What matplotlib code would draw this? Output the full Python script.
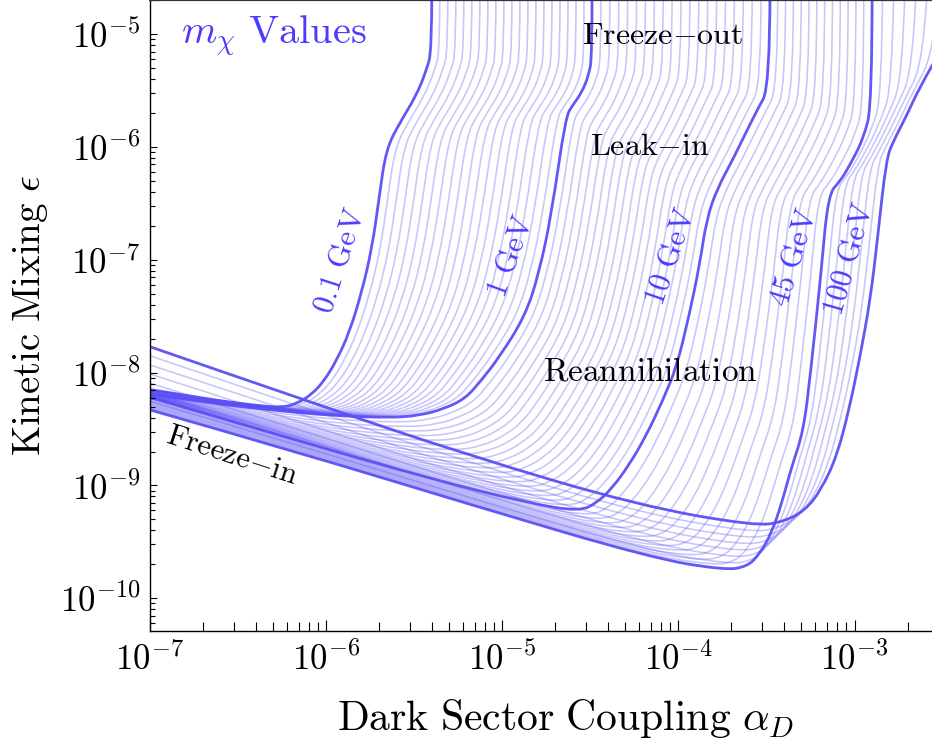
import numpy as np
import matplotlib
matplotlib.use("Agg")
import matplotlib.pyplot as plt
from matplotlib.path import Path
from matplotlib.patches import PathPatch

plt.rcParams['font.family'] = 'serif'
plt.rcParams['font.serif'] = ['cmr10']
plt.rcParams['mathtext.fontset'] = 'cm'
plt.rcParams['axes.formatter.use_mathtext'] = True

# --- labelled dark matter masses (GeV) ---
mass_labels = ['0.1', '1', '10', '45', '100']
mass_values = [0.1, 1.0, 10.0, 45.0, 100.0]

# --- curves for the labelled masses, log10(alpha_D) and log10(epsilon) ---
loga_01 = [-7.00, -6.80, -6.60, -6.40, -6.25, -6.16, -6.08, -6.01, -5.94, -5.87,
           -5.80, -5.74, -5.70, -5.66, -5.58, -5.49, -5.43, -5.40, -5.40]
loge_01 = [-8.15, -8.20, -8.25, -8.29, -8.31, -8.27, -8.19, -8.07, -7.89, -7.65,
           -7.30, -6.90, -6.46, -6.02, -5.78, -5.55, -5.32, -5.14, -4.60]

loga_1 = [-7.00, -6.66, -6.32, -5.98, -5.64, -5.47, -5.33, -5.21, -5.12, -5.02,
          -4.87, -4.79, -4.72, -4.64, -4.60, -4.55, -4.51, -4.49, -4.49]
loge_1 = [-8.19, -8.27, -8.33, -8.38, -8.40, -8.38, -8.32, -8.23, -8.07, -7.87,
          -7.50, -7.11, -6.59, -5.73, -5.63, -5.52, -5.37, -5.20, -4.60]

loga_10 = [-7.00, -6.21, -5.41, -4.84, -4.56, -4.46, -4.38, -4.28, -4.18, -4.09,
           -4.01, -3.94, -3.88, -3.84, -3.78, -3.69, -3.56, -3.48, -3.48]
loge_10 = [-8.22, -8.58, -8.94, -9.16, -9.23, -9.15, -9.03, -8.82, -8.55, -8.25,
           -7.95, -7.50, -7.05, -6.64, -6.37, -6.11, -5.69, -5.47, -4.60]

loga_45 = [-7.00, -6.15, -5.18, -4.16, -3.74, -3.61, -3.54, -3.47, -3.41, -3.36,
           -3.29, -3.25, -3.19, -3.15, -3.08, -3.03, -2.95, -2.90, -2.90]
loge_45 = [-8.33, -8.71, -9.17, -9.64, -9.75, -9.72, -9.61, -9.42, -9.14, -8.85,
           -8.52, -8.01, -7.12, -6.42, -6.30, -6.17, -5.93, -5.62, -4.60]

loga_100 = [-7.00, -6.15, -5.18, -4.22, -3.56, -3.40, -3.28, -3.19, -3.10, -3.03,
            -2.97, -2.91, -2.87, -2.82, -2.78, -2.71, -2.63, -2.49, -2.46]
loge_100 = [-7.77, -8.23, -8.74, -9.18, -9.36, -9.32, -9.22, -9.04, -8.74, -8.32,
            -7.87, -7.35, -6.82, -6.11, -5.95, -5.74, -5.47, -5.09, -4.60]

# mass grid of the pale curves: 20 per decade from 0.1 to 100 GeV
grid_per_decade = 20

x_ticks = [1e-7, 1e-6, 1e-5, 1e-4, 1e-3]
y_ticks = [1e-10, 1e-9, 1e-8, 1e-7, 1e-6, 1e-5]

all_a = np.array([loga_01, loga_1, loga_10, loga_45, loga_100])
all_e = np.array([loge_01, loge_1, loge_10, loge_45, loge_100])
log_m = np.log10(mass_values)


def curve_for(lm):
    # pale curves sit between the labelled neighbours
    i = int(np.clip(np.searchsorted(log_m, lm) - 1, 0, len(log_m) - 2))
    t = (lm - log_m[i]) / (log_m[i + 1] - log_m[i])
    return (1 - t) * all_a[i] + t * all_a[i + 1], (1 - t) * all_e[i] + t * all_e[i + 1]


def smooth_path(la, le):
    # quadratic bezier with the read points as control points (drawn in log space)
    P = np.column_stack([la, le])
    verts = [P[0]]
    codes = [Path.MOVETO]
    n = len(P)
    for i in range(1, n - 1):
        end = (P[i] + P[i + 1]) / 2 if i < n - 2 else P[i + 1]
        verts += [P[i], end]
        codes += [Path.CURVE3, Path.CURVE3]
    return Path(10 ** np.array(verts), codes)


col = '#5a4ff6'
fig = plt.figure(figsize=(9.32, 7.42), dpi=100)
ax = fig.add_axes([150 / 932, 1 - 631 / 742, 782 / 932, 631 / 742])

n_grid = 3 * grid_per_decade + 1
for k in range(n_grid):
    lm = -1 + k / grid_per_decade
    if np.min(np.abs(log_m - lm)) < 0.02:
        continue
    la, le = curve_for(lm)
    ax.add_patch(PathPatch(smooth_path(la, le), fill=False, edgecolor=col, lw=1.15, alpha=0.33,
                           joinstyle='round'))

for la, le in zip(all_a, all_e):
    ax.add_patch(PathPatch(smooth_path(la, le), fill=False, edgecolor=col, lw=2.0, alpha=0.95,
                           joinstyle='round'))

ax.set_xscale('log')
ax.set_yscale('log')
ax.set_xlim(1e-7, 10 ** -2.56)
ax.set_ylim(10 ** -10.29, 10 ** -4.697)
ax.set_xticks(x_ticks)
ax.set_yticks(y_ticks)

ax.spines['right'].set_visible(False)
ax.spines['top'].set_linewidth(1.6)
ax.spines['top'].set_color('#333333')
ax.spines['left'].set_linewidth(1.0)
ax.spines['bottom'].set_linewidth(1.0)
ax.tick_params(axis='x', which='major', direction='in', length=8, width=0.8,
               labelsize=25, pad=8, top=False)
ax.tick_params(axis='x', which='minor', direction='in', length=6.5, width=0.8, top=False)
ax.tick_params(axis='y', which='major', direction='in', length=5, width=0.8,
               labelsize=25, pad=7, right=False)
ax.tick_params(axis='y', which='minor', direction='in', length=3.6, width=0.8, right=False)
ax.yaxis.set_minor_locator(matplotlib.ticker.LogLocator(base=10, subs=np.arange(2, 10), numticks=20))
ax.xaxis.set_minor_locator(matplotlib.ticker.LogLocator(base=10, subs=np.arange(2, 10), numticks=20))
ax.yaxis.set_minor_formatter(matplotlib.ticker.NullFormatter())
ax.xaxis.set_minor_formatter(matplotlib.ticker.NullFormatter())

ax.text(0.531, -0.138, r'$\mathrm{Dark\ Sector\ Coupling}\ \alpha_D$', transform=ax.transAxes,
        ha='center', va='center', fontsize=30)
ax.text(-0.153, 0.50, r'$\mathrm{Kinetic\ Mixing}\ \epsilon$', transform=ax.transAxes,
        ha='center', va='center', fontsize=28, rotation=90)

# region labels
ax.text(10 ** -6.30, 10 ** -5.02, r'$m_\chi\ \mathrm{Values}$', color='#4a3cff',
        ha='center', va='center', fontsize=29)
ax.text(10 ** -4.09, 10 ** -5.02, r'$\mathrm{Freeze}{-}\mathrm{out}$', ha='center', va='center', fontsize=23)
ax.text(10 ** -4.16, 10 ** -6.00, r'$\mathrm{Leak}{-}\mathrm{in}$', ha='center', va='center', fontsize=23)
ax.text(10 ** -4.16, 10 ** -7.99, r'$\mathrm{Reannihilation}$', ha='center', va='center', fontsize=24)
ax.text(10 ** -6.535, 10 ** -8.74, r'$\mathrm{Freeze}{-}\mathrm{in}$', ha='center', va='center',
        fontsize=22, rotation=-18, rotation_mode='anchor')

# mass labels along the curves
label_a = [-5.92, -4.95, -4.04, -3.345, -3.027]
label_e = [-7.01, -6.97, -6.97, -6.98, -6.99]
label_rot = [72, 70, 71, 73, 74]
for name, la, le, rot in zip(mass_labels, label_a, label_e, label_rot):
    ax.text(10 ** la, 10 ** le, r'$%s\ \mathrm{GeV}$' % name, color='#4a3cff', ha='center', va='center',
            fontsize=22, rotation=rot, rotation_mode='anchor')

fig.savefig('out.png', dpi=100)
